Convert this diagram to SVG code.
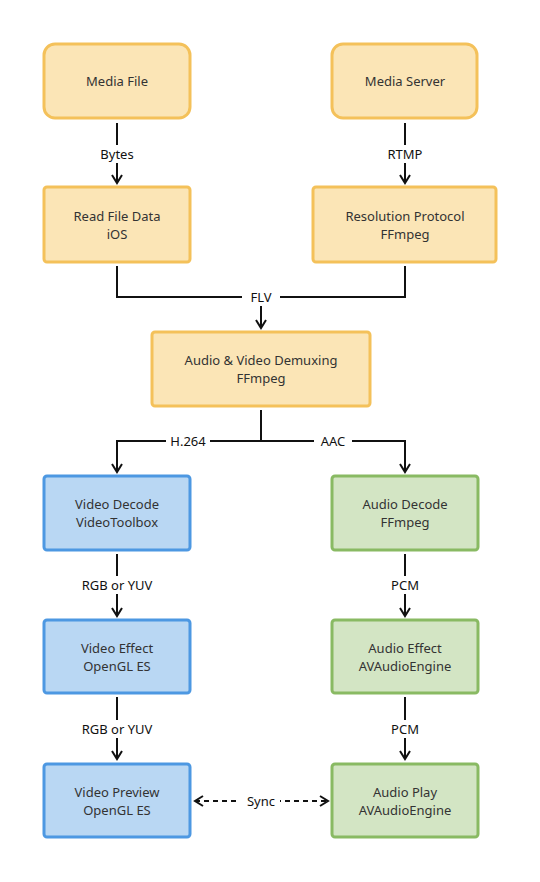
<svg xmlns="http://www.w3.org/2000/svg" width="540" height="882" viewBox="0 0 540 882">
<style>
.t{font-family:"Noto Sans","Open Sans","DejaVu Sans",sans-serif;font-size:13px;fill:#333;text-anchor:middle}
.l{font-family:"Noto Sans","Open Sans","DejaVu Sans",sans-serif;font-size:13px;fill:#111;text-anchor:middle}
.o{fill:#fbe5b6;stroke:#f4c15a;stroke-width:3}
.b{fill:#b9d7f3;stroke:#4d98e2;stroke-width:3}
.g{fill:#d3e5c4;stroke:#89ba63;stroke-width:3}
.e{fill:none;stroke:#111;stroke-width:2}
.lb{fill:#fff}
</style>
<defs>
<marker id="ah" viewBox="0 0 12 12" refX="10" refY="6" markerWidth="12" markerHeight="12" markerUnits="userSpaceOnUse" orient="auto-start-reverse">
<path d="M2,1 L10,6 L2,11" fill="none" stroke="#111" stroke-width="2"/>
</marker>
</defs>
<rect width="540" height="882" fill="#fff"/>
<g id="connectors">
<path class="e" d="M117,123 V183" marker-end="url(#ah)"/>
<rect class="lb" x="96" y="145" width="42" height="18"/>
<text class="l" x="117" y="159">Bytes</text>
<path class="e" d="M405,123 V183" marker-end="url(#ah)"/>
<rect class="lb" x="386" y="145" width="38" height="18"/>
<text class="l" x="405" y="159">RTMP</text>
<path class="e" d="M117,266 V297 H405 V266"/>
<path class="e" d="M261,297 V328" marker-end="url(#ah)"/>
<rect class="lb" x="242" y="288" width="38" height="18"/>
<text class="l" x="261" y="302">FLV</text>
<path class="e" d="M261,410 V441"/>
<path class="e" d="M261,441 H117 V472" marker-end="url(#ah)"/>
<path class="e" d="M261,441 H405 V472" marker-end="url(#ah)"/>
<rect class="lb" x="166" y="432" width="44" height="18"/>
<text class="l" x="188" y="446">H.264</text>
<rect class="lb" x="314" y="432" width="38" height="18"/>
<text class="l" x="333" y="446">AAC</text>
<path class="e" d="M117,554 V616" marker-end="url(#ah)"/>
<rect class="lb" x="80" y="576" width="74" height="18"/>
<text class="l" x="117" y="590">RGB or YUV</text>
<path class="e" d="M117,697 V759" marker-end="url(#ah)"/>
<rect class="lb" x="80" y="720" width="74" height="18"/>
<text class="l" x="117" y="734">RGB or YUV</text>
<path class="e" d="M405,554 V616" marker-end="url(#ah)"/>
<rect class="lb" x="388" y="576" width="34" height="18"/>
<text class="l" x="405" y="590">PCM</text>
<path class="e" d="M405,697 V759" marker-end="url(#ah)"/>
<rect class="lb" x="388" y="720" width="34" height="18"/>
<text class="l" x="405" y="734">PCM</text>
<path class="e" d="M195,801 H328" stroke-dasharray="5,4" marker-start="url(#ah)" marker-end="url(#ah)"/>
<rect class="lb" x="240" y="792" width="40" height="18"/>
<text class="l" x="261" y="806">Sync</text>
</g>
<g id="media-file"><rect class="o" x="44" y="44" width="146" height="74" rx="11"/><text class="t" x="117" y="86">Media File</text></g>
<g id="media-server"><rect class="o" x="332" y="44" width="145" height="74" rx="11"/><text class="t" x="405" y="86">Media Server</text></g>
<g id="read-file-data"><rect class="o" x="44" y="187" width="146" height="75" rx="3"/><text class="t" x="117" y="221">Read File Data</text><text class="t" x="117" y="239">iOS</text></g>
<g id="resolution-protocol"><rect class="o" x="313" y="187" width="183" height="75" rx="3"/><text class="t" x="405" y="221">Resolution Protocol</text><text class="t" x="405" y="239">FFmpeg</text></g>
<g id="demuxing"><rect class="o" x="152" y="332" width="218" height="74" rx="3"/><text class="t" x="261" y="365">Audio &amp; Video Demuxing</text><text class="t" x="261" y="383">FFmpeg</text></g>
<g id="video-decode"><rect class="b" x="44" y="476" width="146" height="74" rx="3"/><text class="t" x="117" y="509">Video Decode</text><text class="t" x="117" y="527">VideoToolbox</text></g>
<g id="video-effect"><rect class="b" x="44" y="620" width="146" height="73" rx="3"/><text class="t" x="117" y="653">Video Effect</text><text class="t" x="117" y="671">OpenGL ES</text></g>
<g id="video-preview"><rect class="b" x="44" y="764" width="146" height="73" rx="3"/><text class="t" x="117" y="797">Video Preview</text><text class="t" x="117" y="815">OpenGL ES</text></g>
<g id="audio-decode"><rect class="g" x="332" y="476" width="146" height="74" rx="3"/><text class="t" x="405" y="509">Audio Decode</text><text class="t" x="405" y="527">FFmpeg</text></g>
<g id="audio-effect"><rect class="g" x="332" y="620" width="146" height="73" rx="3"/><text class="t" x="405" y="653">Audio Effect</text><text class="t" x="405" y="671">AVAudioEngine</text></g>
<g id="audio-play"><rect class="g" x="332" y="764" width="146" height="73" rx="3"/><text class="t" x="405" y="797">Audio Play</text><text class="t" x="405" y="815">AVAudioEngine</text></g>
</svg>
